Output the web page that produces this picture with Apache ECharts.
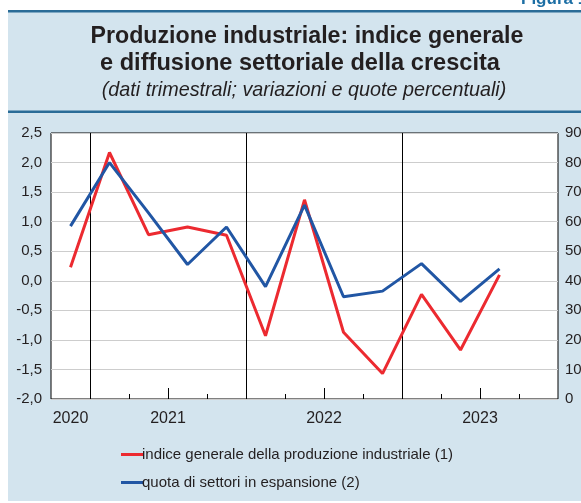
<!DOCTYPE html>
<html>
<head>
<meta charset="utf-8">
<script src="https://cdn.jsdelivr.net/npm/echarts@6/dist/echarts.min.js"></script>
<style>
  html, body { margin: 0; padding: 0; background: #fff; }
  #chart { width: 581px; height: 503px; }
</style>
</head>
<body>
<div id="chart"></div>
<script>
// quarters, 2020 Q4 .. 2023 Q4
const quarters = ["2020T4", "2021T1", "2021T2", "2021T3", "2021T4", "2022T1", "2022T2", "2022T3", "2022T4", "2023T1", "2023T2", "2023T3", "2023T4"];

// (1) indice generale, var. % (left axis)
const indiceGenerale = [0.23, 2.17, 0.78, 0.91, 0.77, -0.93, 1.37, -0.87, -1.57, -0.23, -1.17, 0.10, null];
// (2) quota di settori in espansione, % (right axis)
const quotaSettori = [58.5, 80, 63, 45.5, 58.2, 38, 65.6, 34.6, 36.5, 45.8, 33, 44, null];

const yearLabels = ["2020", "2021", "2022", "2023"];
const yearLabelPos = [0.5, 3, 7, 11];   // in quarter units from the left edge
const yearBreaks = [1, 5, 9];
const midYearTicks = [3, 7, 11];
const quarterTicks = [2, 4, 6, 8, 10, 12];

const seriesNames = ["indice generale della produzione industriale (1)", "quota di settori in espansione (2)"];

const RED = "#ec2a30";
const BLUE = "#2156a4";
const INK = "#231f20";
const FONT = "Liberation Sans, Arial, sans-serif";

const chart = echarts.init(document.getElementById("chart"), null, { renderer: "canvas" });

/* hidden value axes used only for ticks, year lines and labels */
const helperAxis = (extra) => Object.assign({
	type: "value", gridIndex: 0, position: "bottom",
	min: 0, max: quarters.length,
	axisLine: { show: false },
	axisTick: { show: false },
	axisLabel: { show: false },
	splitLine: { show: false },
}, extra);

chart.setOption({
	backgroundColor: "#fff",
	animation: false,
	textStyle: { fontFamily: FONT, color: INK },
	graphic: [
		{ type: "rect", z: -10, shape: { x: 8, y: 12, width: 573, height: 489 }, style: { fill: "#d3e4ee" } },
		{ type: "rect", z: -9, shape: { x: 8, y: 10, width: 573, height: 2.5 }, style: { fill: "#2a6c97" } },
		{ type: "rect", z: -9, shape: { x: 8, y: 110.5, width: 573, height: 2.5 }, style: { fill: "#2a6c97" } },
		{ type: "text", x: 521, y: 8, style: { text: "Figura 1", fontSize: 17, fontWeight: "bold", fontFamily: FONT, fill: "#1c6ea4", align: "left", verticalAlign: "bottom" } },
		{ type: "text", x: 307, y: 37, style: { text: "Produzione industriale: indice generale", fontSize: 23.2, fontWeight: "bold", fontFamily: FONT, fill: INK, align: "center", verticalAlign: "middle" } },
		{ type: "text", x: 300, y: 63, style: { text: "e diffusione settoriale della crescita", fontSize: 23.6, fontWeight: "bold", fontFamily: FONT, fill: INK, align: "center", verticalAlign: "middle" } },
		{ type: "text", x: 304, y: 90, style: { text: "(dati trimestrali; variazioni e quote percentuali)", fontSize: 19.8, fontStyle: "italic", fontFamily: FONT, fill: INK, align: "center", verticalAlign: "middle" } },
	],
	grid: {
		left: 51, right: 23, top: 133, bottom: 104,
		outerBoundsMode: "none", containLabel: false,
		show: true, backgroundColor: "#fff", borderColor: "#000", borderWidth: 1,
	},
	legend: {
		orient: "vertical", left: 116, top: 442,
		icon: "rect", itemWidth: 23, itemHeight: 3, itemGap: 13,
		textStyle: { fontSize: 15, color: INK, fontFamily: FONT, padding: [0, 0, 0, -7] },
		data: seriesNames,
	},
	xAxis: [
		{
			type: "category", data: quarters, boundaryGap: true,
			axisLine: { show: false }, axisTick: { show: false },
			axisLabel: { show: false }, splitLine: { show: false },
		},
		helperAxis({ axisTick: { show: true, inside: true, length: 5, customValues: quarterTicks, lineStyle: { color: "#000" } } }),
		helperAxis({
			axisTick: { show: true, inside: true, length: 11, customValues: midYearTicks, lineStyle: { color: "#000" } },
			axisLabel: {
				show: true, margin: 12, fontSize: 16, color: INK, fontFamily: FONT,
				customValues: yearLabelPos,
				formatter: (v) => yearLabels[yearLabelPos.indexOf(v)] || "",
			},
		}),
		helperAxis({
			axisTick: { show: false, customValues: yearBreaks },
			splitLine: { show: true, lineStyle: { color: "#000", width: 1 } },
		}),
	],
	yAxis: [
		{
			type: "value", min: -2, max: 2.5, interval: 0.5, position: "left",
			axisLine: { show: false }, axisTick: { show: false },
			axisLabel: { margin: 9, fontSize: 15, color: INK, fontFamily: FONT, formatter: (v) => v.toFixed(1).replace(".", ",") },
			splitLine: { lineStyle: { color: "#cdcdcd", width: 1 } },
		},
		{
			type: "value", min: 0, max: 90, interval: 10, position: "right",
			axisLine: { show: false }, axisTick: { show: false },
			axisLabel: { margin: 7, fontSize: 15, color: INK, fontFamily: FONT },
			splitLine: { show: false },
		},
	],
	series: [
		{
			name: seriesNames[0], type: "line", xAxisIndex: 0, yAxisIndex: 0,
			data: indiceGenerale, showSymbol: false, symbol: "none",
			lineStyle: { color: RED, width: 3 }, itemStyle: { color: RED },
		},
		{
			name: seriesNames[1], type: "line", xAxisIndex: 0, yAxisIndex: 1,
			data: quotaSettori, showSymbol: false, symbol: "none",
			lineStyle: { color: BLUE, width: 3 }, itemStyle: { color: BLUE },
		},
	],
});
</script>
</body>
</html>
